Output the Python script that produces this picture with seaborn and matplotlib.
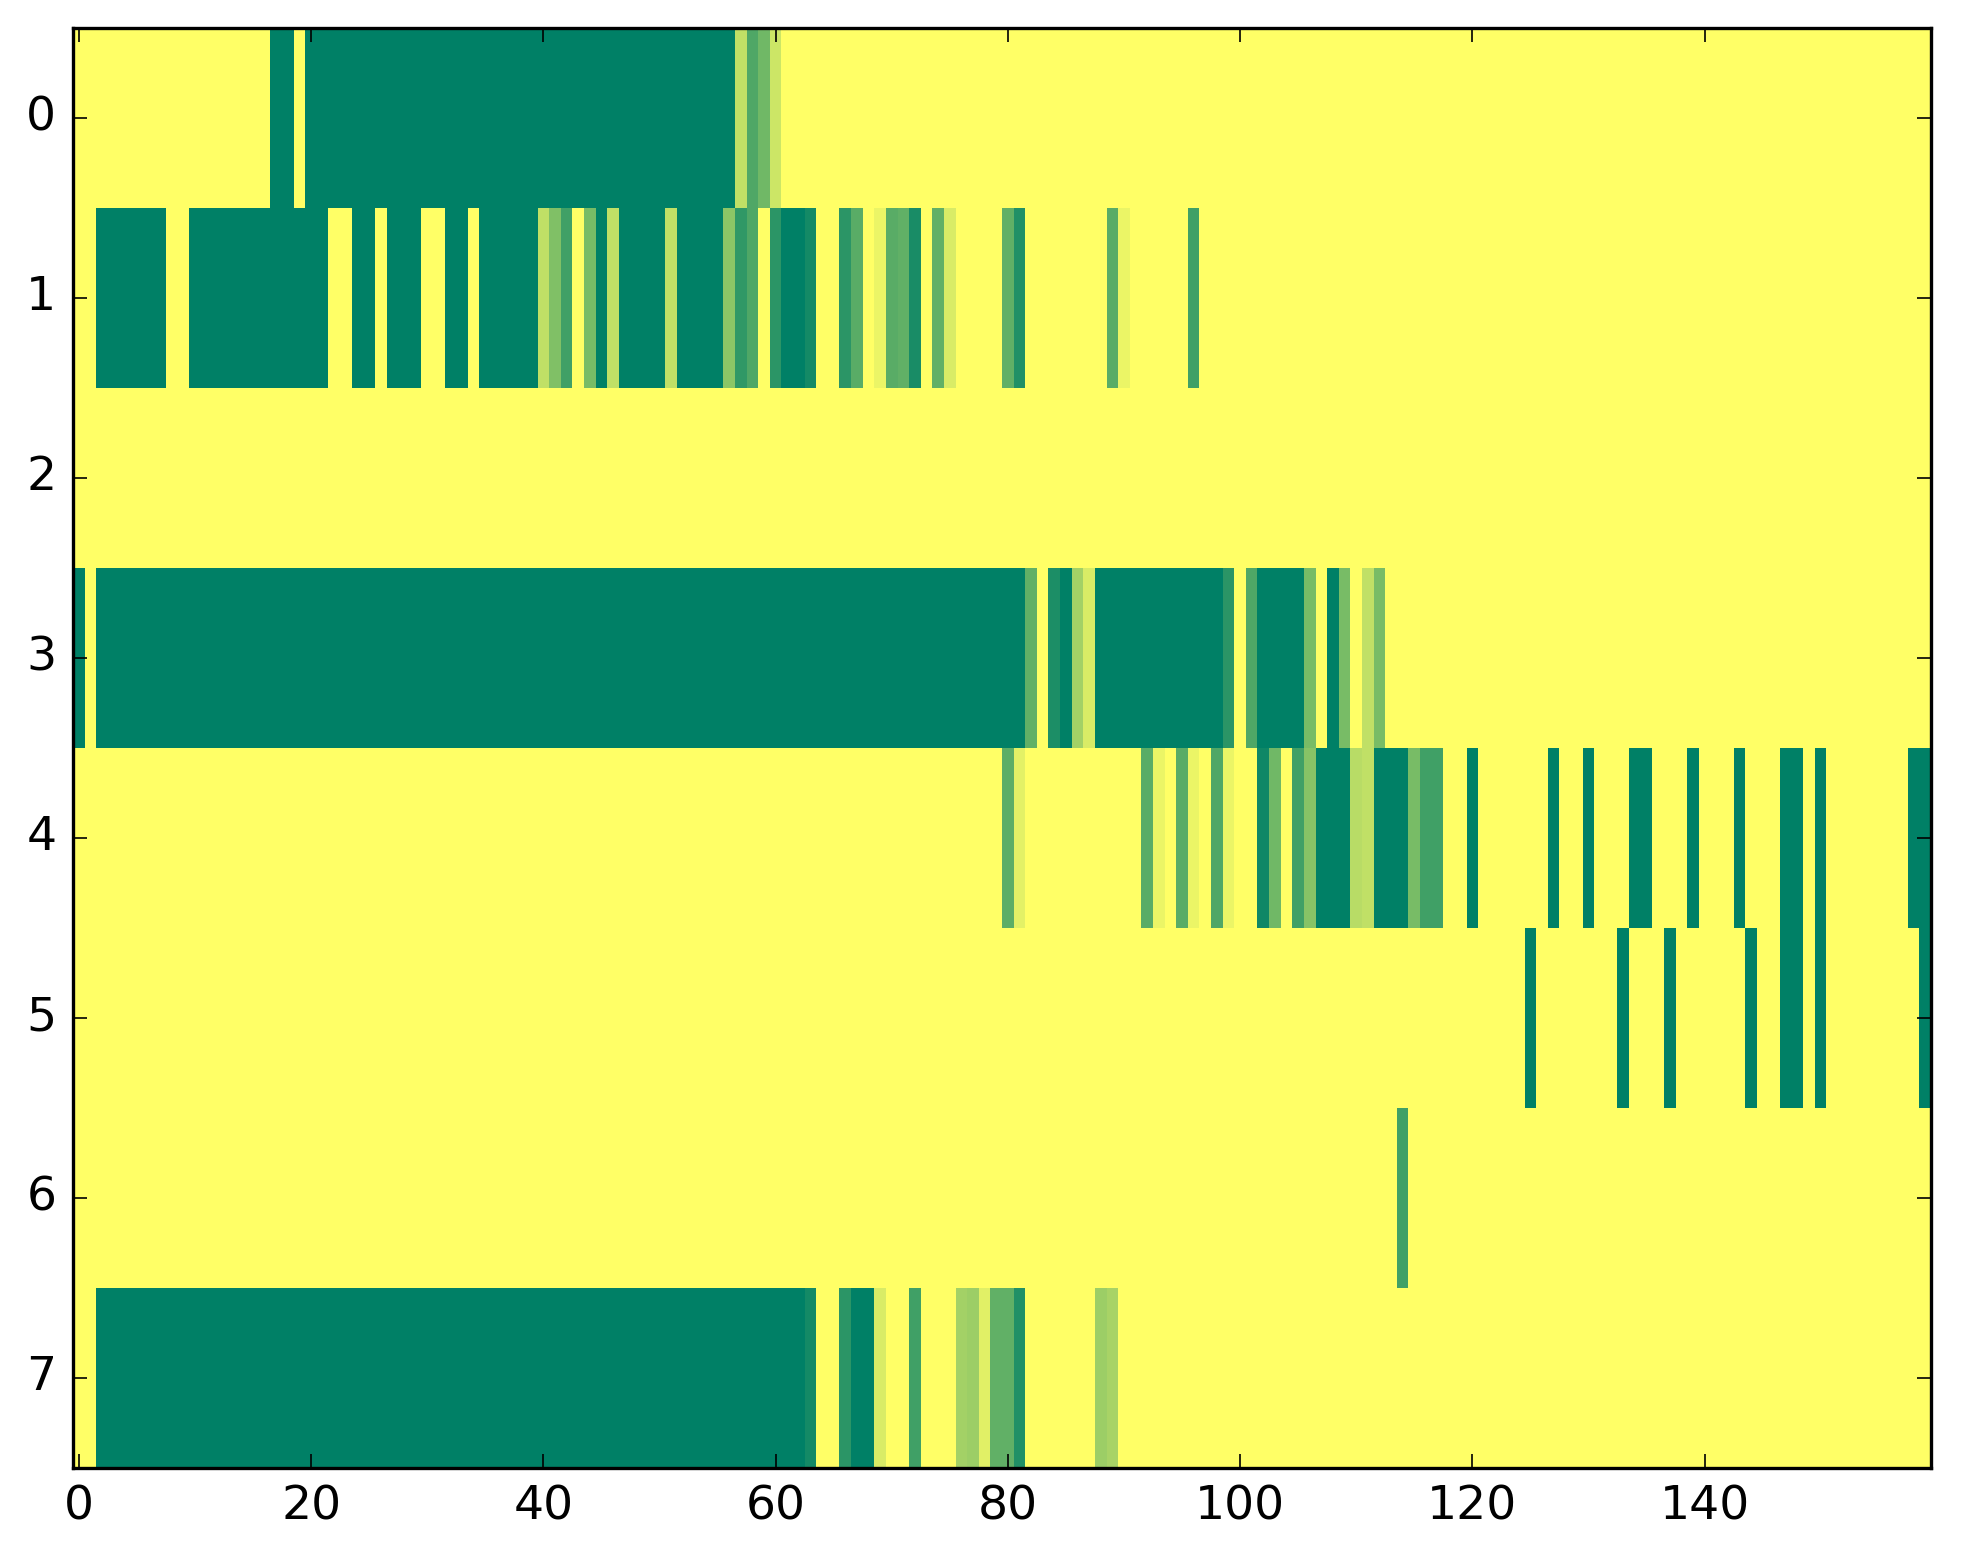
import numpy as np
import matplotlib
matplotlib.use("Agg")
import matplotlib.pyplot as plt
import seaborn as sns

n_cols = 160
row_labels = ["0", "1", "2", "3", "4", "5", "6", "7"]
x_ticks = [0, 20, 40, 60, 80, 100, 120, 140]

# non-yellow segments per row: (first col, last col, value); everything else is 1.0
row0 = [(17, 18, 0), (20, 56, 0), (57, 57, 0.75), (58, 58, 0.31), (59, 59, 0.44), (60, 60, 0.8)]
row1 = [(2, 7, 0), (10, 21, 0), (24, 25, 0), (27, 29, 0), (32, 33, 0), (35, 39, 0),
        (40, 40, 0.75), (41, 41, 0.5), (42, 42, 0.25), (44, 44, 0.47), (45, 45, 0),
        (46, 46, 0.75), (47, 50, 0), (51, 51, 0.75), (52, 55, 0), (56, 56, 0.55),
        (57, 57, 0.19), (58, 58, 0.31), (60, 60, 0.17), (61, 62, 0), (63, 63, 0.08),
        (66, 66, 0.17), (67, 67, 0.35), (69, 69, 0.92), (70, 70, 0.35), (71, 71, 0.38),
        (72, 72, 0.1), (74, 74, 0.38), (75, 75, 0.85), (80, 80, 0.38), (81, 81, 0.13),
        (89, 89, 0.35), (90, 90, 0.92), (96, 96, 0.25)]
row2 = []
row3 = [(0, 0, 0), (2, 81, 0), (82, 82, 0.38), (84, 84, 0.11), (85, 85, 0), (86, 86, 0.64),
        (87, 87, 0.85), (88, 98, 0), (99, 99, 0.17), (101, 101, 0.31), (102, 105, 0),
        (106, 106, 0.47), (108, 108, 0), (109, 109, 0.47), (111, 111, 0.75), (112, 112, 0.47)]
row4 = [(80, 80, 0.36), (81, 81, 0.89), (92, 92, 0.35), (93, 93, 0.92), (95, 95, 0.35),
        (96, 96, 0.92), (98, 98, 0.31), (99, 99, 0.92), (102, 102, 0.06), (103, 103, 0.44),
        (105, 105, 0.25), (106, 106, 0.53), (107, 109, 0), (110, 110, 0.72), (111, 111, 0.75),
        (112, 114, 0), (115, 115, 0.47), (116, 117, 0.25), (120, 120, 0), (127, 127, 0),
        (130, 130, 0), (134, 135, 0), (139, 139, 0), (143, 143, 0), (147, 148, 0),
        (150, 150, 0), (158, 159, 0)]
row5 = [(125, 125, 0), (133, 133, 0), (137, 137, 0), (144, 144, 0), (147, 148, 0),
        (150, 150, 0), (159, 159, 0)]
row6 = [(114, 114, 0.25)]
row7 = [(2, 62, 0), (63, 63, 0.08), (66, 66, 0.17), (67, 68, 0), (69, 69, 0.85),
        (72, 72, 0.25), (76, 76, 0.64), (77, 77, 0.61), (78, 78, 0.88), (79, 80, 0.38),
        (81, 81, 0.13), (88, 88, 0.61), (89, 89, 0.66)]

rows = [row0, row1, row2, row3, row4, row5, row6, row7]
grid = np.ones((len(rows), n_cols))
for r, segs in enumerate(rows):
    for a, b, v in segs:
        grid[r, a:b + 1] = v

fig = plt.figure(figsize=(19.63, 15.64), dpi=100)
ax = fig.add_axes([0.0372, 0.0614, 0.9465, 0.9207])

sns.heatmap(grid, cmap="summer", vmin=0, vmax=1, cbar=False, ax=ax, linewidths=0)

ax.set_xticks(np.array(x_ticks) + 0.5)
ax.set_xticklabels([str(t) for t in x_ticks], rotation=0)
ax.set_yticks(np.arange(len(rows)) + 0.5)
ax.set_yticklabels(row_labels, rotation=0)

ax.tick_params(direction="in", top=True, right=True, length=10, width=1.2,
               labelsize=34, pad=12, colors="black")
for s in ax.spines.values():
    s.set_visible(True)
    s.set_linewidth(2.4)
    s.set_color("black")

fig.savefig("out.png", dpi=100)
